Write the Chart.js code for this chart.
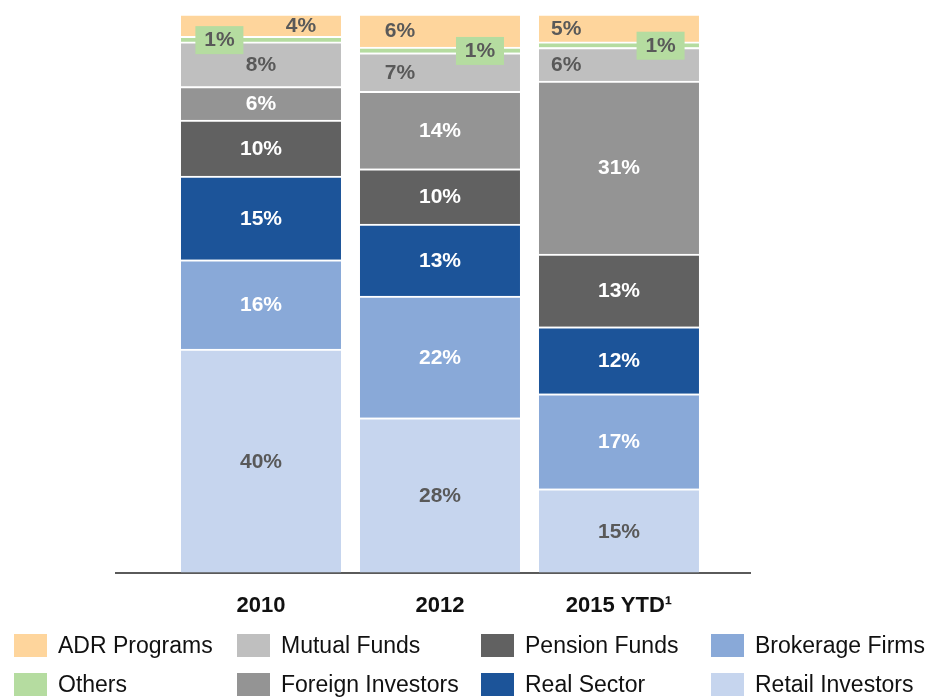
<!DOCTYPE html>
<html>
<head>
<meta charset="utf-8">
<script src="https://cdn.jsdelivr.net/npm/chart.js@4"></script>
<style>
  body { margin: 0; background: #fff; font-family: Arial, "Liberation Sans", sans-serif; }
  #wrap { position: relative; width: 933px; height: 697px; overflow: hidden; }
  #myChart { position: absolute; left: 0; top: 0; }
  .lg { position: absolute; height: 23px; font-size: 23px; line-height: 23px; color: #111; white-space: nowrap; }
  .lg span { position: absolute; left: 0; top: 0; width: 33px; height: 23px; }
  .lg b { position: absolute; left: 44px; top: 0; font-weight: normal; }
</style>
</head>
<body>
<div id="wrap">
  <canvas id="myChart" width="933" height="697"></canvas>
  <div id="legend"></div>
</div>
<script>
// values (percent of total)
const years = ['2010', '2012', '2015 YTD\u00b9'];
const retail = [40, 28, 15];
const brokerage = [16, 22, 17];
const realSector = [15, 13, 12];
const pension = [10, 10, 13];
const foreignInv = [6, 14, 31];
const mutual = [8, 7, 6];
const others = [1, 1, 1];
const adr = [4, 6, 5];

const seriesNames = ['Retail Investors', 'Brokerage Firms', 'Real Sector', 'Pension Funds',
  'Foreign Investors', 'Mutual Funds', 'Others', 'ADR Programs'];
const seriesValues = [retail, brokerage, realSector, pension, foreignInv, mutual, others, adr];
const colors = ['#c6d5ee', '#89a9d8', '#1c5499', '#616161', '#949494', '#bfbfbf', '#b5dca0', '#fed59c'];
const textColors = ['#595959', '#ffffff', '#ffffff', '#ffffff', '#ffffff', '#595959', '#595959', '#595959'];

// label horizontal shift (fraction of bar width) for the crowded top segments
const shifts = {
  5: [0, -0.25, -0.33],
  6: [-0.26, 0.25, 0.26],
  7: [0.25, -0.25, -0.33]
};

// 100% stacked: each bar scaled to its own total
const totals = years.map((_, j) => seriesValues.reduce((s, arr) => s + arr[j], 0));

const datasets = seriesNames.map((name, i) => ({
  label: name,
  data: seriesValues[i].map((v, j) => ({ x: j, y: v / totals[j] * 100 })),
  backgroundColor: colors[i],
  borderColor: '#ffffff',
  borderWidth: { top: 2, bottom: 0, left: 0, right: 0 },
  borderSkipped: false,
  barThickness: 160
}));

const labelPlugin = {
  id: 'segLabels',
  afterDatasetsDraw(chart) {
    const c = chart.ctx;
    c.save();
    c.font = 'bold 21px Arial, "Liberation Sans", sans-serif';
    c.textAlign = 'center';
    c.textBaseline = 'middle';
    seriesValues.forEach((arr, i) => {
      const meta = chart.getDatasetMeta(i);
      meta.data.forEach((el, j) => {
        const w = el.width;
        const s = shifts[i] ? shifts[i][j] : 0;
        const x = el.x + s * w;
        let y = (el.y + el.base) / 2;
        if (i === 6) {
          c.fillStyle = colors[6];
          c.fillRect(x - 24, y - 13, 48, 28);
        }
        c.fillStyle = textColors[i];
        c.fillText(arr[j] + '%', x, y + 1);
      });
    });
    c.restore();
  }
};

new Chart(document.getElementById('myChart'), {
  type: 'bar',
  data: { datasets: datasets },
  plugins: [labelPlugin],
  options: {
    responsive: false,
    animation: false,
    layout: { padding: { left: 116, right: 183, top: 14, bottom: 58 } },
    plugins: { legend: { display: false }, tooltip: { enabled: false } },
    scales: {
      x: {
        type: 'linear',
        stacked: true,
        offset: false,
        min: -0.81,
        max: 2.732,
        afterBuildTicks: (axis) => { axis.ticks = years.map((_, i) => ({ value: i })); },
        grid: { display: false, drawTicks: false },
        border: { display: true, color: '#5a5a5a', width: 2 },
        ticks: {
          autoSkip: false,
          maxRotation: 0,
          padding: 20,
          color: '#111',
          font: { family: 'Arial, "Liberation Sans", sans-serif', size: 22, weight: 'bold' },
          callback: (v) => years[v]
        }
      },
      y: {
        stacked: true,
        display: false,
        min: 0,
        max: 100
      }
    }
  }
});

// legend grid: 2 rows x 4 columns
const legendOrder = [7, 5, 3, 1, 6, 4, 2, 0];
const colX = [14, 237, 481, 711];
const rowY = [634, 673];
const lg = document.getElementById('legend');
legendOrder.forEach((si, k) => {
  const d = document.createElement('div');
  d.className = 'lg';
  d.style.left = colX[k % 4] + 'px';
  d.style.top = rowY[Math.floor(k / 4)] + 'px';
  d.innerHTML = '<span style="background:' + colors[si] + '"></span><b>' + seriesNames[si] + '</b>';
  lg.appendChild(d);
});
</script>
</body>
</html>
